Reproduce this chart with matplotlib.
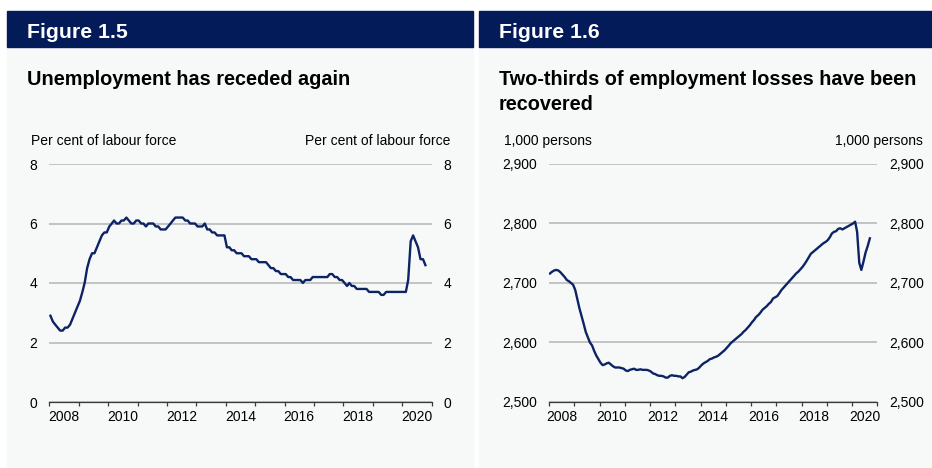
import numpy as np
import pandas as pd
import matplotlib
matplotlib.use('Agg')
import matplotlib.pyplot as plt
import matplotlib.dates as mdates
from matplotlib.patches import Rectangle
from matplotlib.ticker import FuncFormatter

plt.rcParams['font.family'] = ['Liberation Sans', 'DejaVu Sans']

####################
# DATA
####################
# Figure 1.5: unemployment, per cent of labour force, monthly from Jan 2008
unemp = [
    2.9, 2.7, 2.6, 2.5, 2.4, 2.4, 2.5, 2.5, 2.6, 2.8, 3.0, 3.2,   # 2008
    3.4, 3.7, 4.0, 4.5, 4.8, 5.0, 5.0, 5.2, 5.4, 5.6, 5.7, 5.7,   # 2009
    5.9, 6.0, 6.1, 6.0, 6.0, 6.1, 6.1, 6.2, 6.1, 6.0, 6.0, 6.1,   # 2010
    6.1, 6.0, 6.0, 5.9, 6.0, 6.0, 6.0, 5.9, 5.9, 5.8, 5.8, 5.8,   # 2011
    5.9, 6.0, 6.1, 6.2, 6.2, 6.2, 6.2, 6.1, 6.1, 6.0, 6.0, 6.0,   # 2012
    5.9, 5.9, 5.9, 6.0, 5.8, 5.8, 5.7, 5.7, 5.6, 5.6, 5.6, 5.6,   # 2013
    5.2, 5.2, 5.1, 5.1, 5.0, 5.0, 5.0, 4.9, 4.9, 4.9, 4.8, 4.8,   # 2014
    4.8, 4.7, 4.7, 4.7, 4.7, 4.6, 4.5, 4.5, 4.4, 4.4, 4.3, 4.3,   # 2015
    4.3, 4.2, 4.2, 4.1, 4.1, 4.1, 4.1, 4.0, 4.1, 4.1, 4.1, 4.2,   # 2016
    4.2, 4.2, 4.2, 4.2, 4.2, 4.2, 4.3, 4.3, 4.2, 4.2, 4.1, 4.1,   # 2017
    4.0, 3.9, 4.0, 3.9, 3.9, 3.8, 3.8, 3.8, 3.8, 3.8, 3.7, 3.7,   # 2018
    3.7, 3.7, 3.7, 3.6, 3.6, 3.7, 3.7, 3.7, 3.7, 3.7, 3.7, 3.7,   # 2019
    3.7, 3.7, 4.1, 5.4, 5.6, 5.4, 5.2, 4.8, 4.8, 4.6,             # 2020
]

# Figure 1.6: employment, 1,000 persons, monthly from Jan 2008
employ = [
    2716, 2719, 2721, 2722, 2721, 2718, 2714, 2710, 2705, 2703, 2700, 2697,  # 2008
    2688, 2672, 2658, 2645, 2632, 2618, 2609, 2600, 2595, 2586, 2578, 2572,  # 2009
    2566, 2562, 2563, 2565, 2566, 2563, 2560, 2558, 2558, 2558, 2557, 2556,  # 2010
    2553, 2552, 2554, 2555, 2556, 2554, 2554, 2555, 2554, 2554, 2554, 2553,  # 2011
    2551, 2548, 2547, 2545, 2544, 2544, 2543, 2541, 2541, 2544, 2545, 2544,  # 2012
    2544, 2543, 2543, 2540, 2542, 2546, 2550, 2551, 2553, 2554, 2555, 2558,  # 2013
    2562, 2565, 2567, 2569, 2572, 2573, 2575, 2576, 2578, 2581, 2584, 2587,  # 2014
    2591, 2595, 2599, 2602, 2605, 2608, 2611, 2614, 2618, 2621, 2625, 2629,  # 2015
    2634, 2638, 2643, 2646, 2650, 2655, 2658, 2661, 2665, 2668, 2674, 2676,  # 2016
    2678, 2683, 2688, 2692, 2696, 2700, 2704, 2708, 2712, 2716, 2719, 2723,  # 2017
    2727, 2732, 2737, 2743, 2749, 2752, 2755, 2758, 2761, 2764, 2767, 2769,  # 2018
    2772, 2777, 2783, 2786, 2787, 2791, 2792, 2790, 2792, 2794, 2796, 2798,  # 2019
    2800, 2803, 2786, 2734, 2722, 2736, 2751, 2762, 2775,                    # 2020
]

fig_nums = ['Figure 1.5', 'Figure 1.6']
titles = [['Unemployment has receded again'],
          ['Two-thirds of employment losses have been', 'recovered']]
units = ['Per cent of labour force', '1,000 persons']
yticks_1 = [0, 2, 4, 6, 8]
yticks_2 = [2500, 2600, 2700, 2800, 2900]

####################
# STYLE
####################
W, H = 932, 468
navy = '#031b58'
line_clr = '#0c2366'
panel_bg = '#f7f8f8'
grid_clr = '#b5b5b5'


def mid_month(n):
    # plot monthly values in the middle of each month
    return pd.date_range('2008-01-01', periods=n, freq='MS') + pd.Timedelta(days=14)


def fx(x):
    return x / W


def fy(y):
    return 1 - y / H


fig = plt.figure(figsize=(W / 100, H / 100), dpi=100)
fig.patch.set_facecolor('white')

# panel backgrounds and header bands (pixel positions)
panels = [(7, 473, 27, 31), (479, 932, 499, 504)]
for i, (x0, x1, tx, ux) in enumerate(panels):
    fig.patches.append(Rectangle((fx(x0), fy(467)), fx(x1 - x0), (467 - 47) / H,
                                 transform=fig.transFigure, color=panel_bg, zorder=-10))
    fig.patches.append(Rectangle((fx(x0), fy(47)), fx(x1 - x0), 36 / H,
                                 transform=fig.transFigure, color=navy, zorder=-10))
    fig.text(fx(tx), fy(37.5), fig_nums[i], color='white', fontsize=15.3,
             fontweight='bold', va='baseline', ha='left')
    for j, line in enumerate(titles[i]):
        fig.text(fx(tx), fy(85 + 25 * j), line, color='black', fontsize=14.3,
                 fontweight='bold', va='baseline', ha='left')

# axes positions in pixels: left, right
axes_px = [(49.3, 431.7), (549, 877.3)]
unit_right = [450, 923]
series = [unemp, employ]
ylims = [(0, 8), (2500, 2900)]
yticks = [yticks_1, yticks_2]

for i in range(2):
    x0, x1 = axes_px[i]
    ax = fig.add_axes([fx(x0), fy(402), fx(x1 - x0), 238 / H])
    ax.set_facecolor('none')
    vals = series[i]
    ax.plot(mid_month(len(vals)), vals, color=line_clr, lw=1.7, zorder=3,
            solid_joinstyle='round')

    ax.set_ylim(*ylims[i])
    ax.set_yticks(yticks[i])
    ax.set_xlim(pd.Timestamp('2008-01-01'), pd.Timestamp('2021-01-01'))
    if i == 1:
        ax.yaxis.set_major_formatter(FuncFormatter(lambda v, p: f'{v:,.0f}'))

    ax.grid(axis='y', color=grid_clr, lw=1.1)
    ax.set_axisbelow(True)
    for s in ['top', 'left', 'right']:
        ax.spines[s].set_visible(False)
    ax.spines['bottom'].set_color('#3a3a3a')
    ax.spines['bottom'].set_linewidth(0.9)
    ax.spines['bottom'].set_zorder(4)

    ax.tick_params(axis='y', which='both', length=0, labelleft=True,
                   labelright=True, labelsize=10, pad=8.5)

    # year ticks at every year start, labels centred in even years
    ax.xaxis.set_major_locator(mdates.YearLocator(1))
    ax.xaxis.set_major_formatter(plt.NullFormatter())
    ax.xaxis.set_minor_locator(mdates.YearLocator(2, month=7, day=1))
    ax.xaxis.set_minor_formatter(mdates.DateFormatter('%Y'))
    ax.tick_params(axis='x', which='major', length=3.2, width=0.9,
                   color='#3a3a3a', direction='out')
    ax.tick_params(axis='x', which='minor', length=0, labelsize=10, pad=6)

    fig.text(fx(panels[i][3]), fy(145), units[i], fontsize=10,
             ha='left', va='baseline')
    fig.text(fx(unit_right[i]), fy(145), units[i], fontsize=10,
             ha='right', va='baseline')

fig.savefig('out.png', dpi=100, facecolor='white')
